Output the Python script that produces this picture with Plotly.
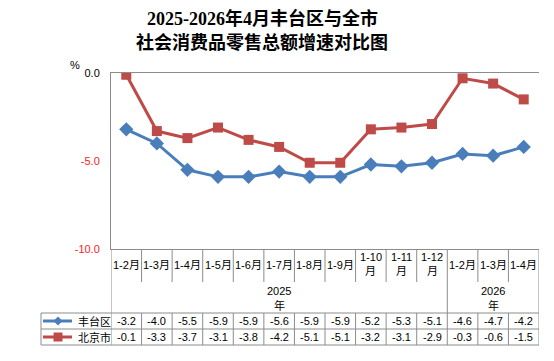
import plotly.graph_objects as go

# ---- data ----
months = ["1-2月", "1-3月", "1-4月", "1-5月", "1-6月", "1-7月", "1-8月", "1-9月",
          "1-10月", "1-11月", "1-12月", "1-2月", "1-3月", "1-4月"]
years = ["2025"] * 11 + ["2026"] * 3
fengtai = [-3.2, -4.0, -5.5, -5.9, -5.9, -5.6, -5.9, -5.9, -5.2, -5.3, -5.1, -4.6, -4.7, -4.2]
beijing = [-0.1, -3.3, -3.7, -3.1, -3.8, -4.2, -5.1, -5.1, -3.2, -3.1, -2.9, -0.3, -0.6, -1.5]
series_names = ["丰台区", "北京市"]
y_ticks = [0.0, -5.0, -10.0]
title_lines = ["2025-2026年4月丰台区与全市", "社会消费品零售总额增速对比图"]

# ---- style ----
W, H = 554, 361
L, R, T, B = 111, 15, 73, 112
PW, PH = W - L - R, H - T - B
BLUE = "#4A7EBB"
RED = "#BE4B48"
GRID = "#8C8C8C"
FONT = "Liberation Sans, Noto Sans CJK SC, sans-serif"


def px2x(px):
    return (px - L) / PW


def py2y(py):
    return (H - B - py) / PH


n = len(months)
xs = list(range(n))

fig = go.Figure()
fig.add_trace(go.Scatter(x=xs, y=fengtai, mode="lines+markers", name=series_names[0],
                         line=dict(color=BLUE, width=3),
                         marker=dict(symbol="diamond", size=11, color=BLUE)))
fig.add_trace(go.Scatter(x=xs, y=beijing, mode="lines+markers", name=series_names[1],
                         line=dict(color=RED, width=3),
                         marker=dict(symbol="square", size=10, color=RED)))

ticktext = []
for v in y_ticks:
    s = f"{v:.1f}"
    if v < 0:
        s = f'<span style="color:#FF2020">{s}</span>'
    ticktext.append(s)

annotations = []
shapes = []

# titles
for i, t in enumerate(title_lines):
    annotations.append(dict(text=t, x=px2x(262), y=py2y(19 + 23 * i), xref="paper", yref="paper",
                            showarrow=False, xanchor="center", yanchor="middle",
                            font=dict(family="Liberation Serif, Noto Sans CJK SC, serif", size=18,
                                      color="#000000", weight="bold")))
annotations.append(dict(text="%", x=px2x(68), y=py2y(57), xref="paper", yref="paper",
                        showarrow=False, font=dict(family=FONT, size=11, color="#000")))

tf = dict(family=FONT, size=11, color="#000")

# month labels
for i, m in enumerate(months):
    if len(m) <= 4:
        parts = [(m, 265)]
    else:
        parts = [(m[:-1], 257), (m[-1], 271)]
    for txt, pyc in parts:
        annotations.append(dict(text=txt, x=i, y=py2y(pyc), xref="x", yref="paper",
                                showarrow=False, yanchor="middle", font=tf, borderpad=0))

# year labels
groups = []
for i, yv in enumerate(years):
    if not groups or groups[-1][0] != yv:
        groups.append([yv, i, i])
    else:
        groups[-1][2] = i
for yv, a, b in groups:
    for txt, pyc in ((yv, 291), ("年", 305)):
        annotations.append(dict(text=txt, x=(a + b) / 2, y=py2y(pyc), xref="x", yref="paper",
                                showarrow=False, yanchor="middle", font=tf, borderpad=0))

# table values
for r, (vals, pyc) in enumerate([(fengtai, 321), (beijing, 337)]):
    for i, v in enumerate(vals):
        annotations.append(dict(text=f"{v:.1f}", x=i, y=py2y(pyc), xref="x", yref="paper",
                                showarrow=False, yanchor="middle", font=tf))
    annotations.append(dict(text=series_names[r], x=px2x(76), y=py2y(pyc), xref="paper", yref="paper",
                            showarrow=False, xanchor="left", yanchor="middle", font=tf))

# legend keys
shapes.append(dict(type="line", xref="paper", yref="paper", x0=px2x(43), x1=px2x(72),
                   y0=py2y(321), y1=py2y(321), line=dict(color=BLUE, width=3)))
cx, cy = 58, 321
shapes.append(dict(type="path", xref="paper", yref="paper",
                   path=f"M {px2x(cx-4.5)} {py2y(cy)} L {px2x(cx)} {py2y(cy-4.5)} L {px2x(cx+4.5)} {py2y(cy)} L {px2x(cx)} {py2y(cy+4.5)} Z",
                   fillcolor=BLUE, line=dict(width=0)))
shapes.append(dict(type="line", xref="paper", yref="paper", x0=px2x(43), x1=px2x(72),
                   y0=py2y(337), y1=py2y(337), line=dict(color=RED, width=3)))
shapes.append(dict(type="rect", xref="paper", yref="paper", x0=px2x(53.5), x1=px2x(62.5),
                   y0=py2y(332.5), y1=py2y(341.5), fillcolor=RED, line=dict(width=0)))

# table grid lines
ln = dict(color=GRID, width=1)
group_bounds = set([g[1] - 0.5 for g in groups] + [groups[-1][2] + 0.5])
for k in range(n + 1):
    xb = k - 0.5
    bottom = 313 if xb in group_bounds else 282
    shapes.append(dict(type="line", xref="x", yref="paper", x0=xb, x1=xb,
                       y0=py2y(249), y1=py2y(bottom), line=ln))
    shapes.append(dict(type="line", xref="x", yref="paper", x0=xb, x1=xb,
                       y0=py2y(313), y1=py2y(345), line=ln))
for yy in (313, 329, 345):
    shapes.append(dict(type="line", xref="paper", yref="paper", x0=px2x(41), x1=1,
                       y0=py2y(yy), y1=py2y(yy), line=ln))
shapes.append(dict(type="line", xref="paper", yref="paper", x0=px2x(41), x1=px2x(41),
                   y0=py2y(313), y1=py2y(345), line=ln))

fig.update_layout(
    width=W, height=H,
    margin=dict(l=L, r=R, t=T, b=B),
    paper_bgcolor="white", plot_bgcolor="white",
    showlegend=False,
    xaxis=dict(range=[-0.5, n - 0.5], showticklabels=False, showgrid=False, zeroline=False,
               showline=True, mirror=True, linecolor=GRID, linewidth=1, ticks=""),
    yaxis=dict(range=[-10, 0], tickvals=y_ticks, ticktext=ticktext, showgrid=False,
               zeroline=False, showline=True, linecolor=GRID, linewidth=1, ticks="",
               ticklabelstandoff=8, tickfont=dict(family=FONT, size=11, color="#000")),
    annotations=annotations,
    shapes=shapes,
)

fig.write_html("out.html")
